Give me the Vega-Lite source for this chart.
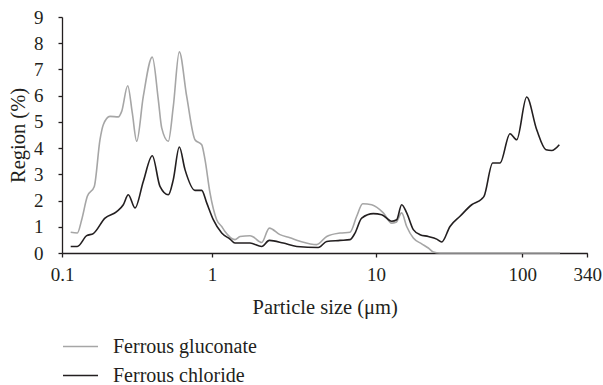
{
  "$schema": "https://vega.github.io/schema/vega-lite/v6.json",
  "autosize": "none",
  "width": 525.3,
  "height": 236,
  "padding": {"left": 62, "top": 17, "right": 15.7, "bottom": 132},
  "background": "white",
  "config": {
    "font": "Liberation Serif",
    "view": {"stroke": null},
    "axis": {"domainColor": "#231f20", "tickColor": "#231f20", "labelColor": "#231f20", "titleColor": "#231f20", "labelFont": "Liberation Serif", "titleFont": "Liberation Serif", "labelFontSize": 19, "titleFontSize": 20.5, "titleFontWeight": "normal", "grid": false, "domainWidth": 1.3, "tickWidth": 1.3, "tickSize": 4},
    "legend": {"labelFont": "Liberation Serif", "labelFontSize": 20, "labelColor": "#231f20"}
  },
  "data": {"values": [
    {"series": "Ferrous gluconate", "size": 0.1143, "region": 0.79},
    {"series": "Ferrous gluconate", "size": 0.1265, "region": 0.76},
    {"series": "Ferrous gluconate", "size": 0.1353, "region": 1.27},
    {"series": "Ferrous gluconate", "size": 0.1475, "region": 2.16},
    {"series": "Ferrous gluconate", "size": 0.1642, "region": 2.54},
    {"series": "Ferrous gluconate", "size": 0.1792, "region": 4.32},
    {"series": "Ferrous gluconate", "size": 0.1885, "region": 4.89},
    {"series": "Ferrous gluconate", "size": 0.2089, "region": 5.21},
    {"series": "Ferrous gluconate", "size": 0.2373, "region": 5.19},
    {"series": "Ferrous gluconate", "size": 0.25, "region": 5.4},
    {"series": "Ferrous gluconate", "size": 0.2742, "region": 6.38},
    {"series": "Ferrous gluconate", "size": 0.2942, "region": 5.34},
    {"series": "Ferrous gluconate", "size": 0.3148, "region": 4.26},
    {"series": "Ferrous gluconate", "size": 0.3483, "region": 5.97},
    {"series": "Ferrous gluconate", "size": 0.3999, "region": 7.47},
    {"series": "Ferrous gluconate", "size": 0.4385, "region": 5.85},
    {"series": "Ferrous gluconate", "size": 0.462, "region": 4.77},
    {"series": "Ferrous gluconate", "size": 0.5113, "region": 4.26},
    {"series": "Ferrous gluconate", "size": 0.5521, "region": 5.59},
    {"series": "Ferrous gluconate", "size": 0.6053, "region": 7.67},
    {"series": "Ferrous gluconate", "size": 0.6782, "region": 5.97},
    {"series": "Ferrous gluconate", "size": 0.7701, "region": 4.32},
    {"series": "Ferrous gluconate", "size": 0.8536, "region": 4.13},
    {"series": "Ferrous gluconate", "size": 0.8982, "region": 3.56},
    {"series": "Ferrous gluconate", "size": 0.9698, "region": 2.29},
    {"series": "Ferrous gluconate", "size": 1.068, "region": 1.27},
    {"series": "Ferrous gluconate", "size": 1.146, "region": 1.01},
    {"series": "Ferrous gluconate", "size": 1.2, "region": 0.82},
    {"series": "Ferrous gluconate", "size": 1.381, "region": 0.51},
    {"series": "Ferrous gluconate", "size": 1.482, "region": 0.63},
    {"series": "Ferrous gluconate", "size": 1.705, "region": 0.66},
    {"series": "Ferrous gluconate", "size": 1.786, "region": 0.61},
    {"series": "Ferrous gluconate", "size": 2.009, "region": 0.4},
    {"series": "Ferrous gluconate", "size": 2.236, "region": 0.95},
    {"series": "Ferrous gluconate", "size": 2.598, "region": 0.7},
    {"series": "Ferrous gluconate", "size": 2.989, "region": 0.58},
    {"series": "Ferrous gluconate", "size": 3.44, "region": 0.45},
    {"series": "Ferrous gluconate", "size": 4.348, "region": 0.32},
    {"series": "Ferrous gluconate", "size": 5.005, "region": 0.63},
    {"series": "Ferrous gluconate", "size": 6.034, "region": 0.76},
    {"series": "Ferrous gluconate", "size": 6.943, "region": 0.79},
    {"series": "Ferrous gluconate", "size": 7.626, "region": 1.4},
    {"series": "Ferrous gluconate", "size": 8.298, "region": 1.88},
    {"series": "Ferrous gluconate", "size": 9.414, "region": 1.84},
    {"series": "Ferrous gluconate", "size": 11.22, "region": 1.53},
    {"series": "Ferrous gluconate", "size": 12.8, "region": 1.14},
    {"series": "Ferrous gluconate", "size": 13.7, "region": 1.17},
    {"series": "Ferrous gluconate", "size": 14.98, "region": 1.53},
    {"series": "Ferrous gluconate", "size": 16.21, "region": 1.01},
    {"series": "Ferrous gluconate", "size": 17.99, "region": 0.57},
    {"series": "Ferrous gluconate", "size": 20.53, "region": 0.35},
    {"series": "Ferrous gluconate", "size": 22.78, "region": 0.19},
    {"series": "Ferrous gluconate", "size": 24.64, "region": 0.04},
    {"series": "Ferrous gluconate", "size": 27.38, "region": 0},
    {"series": "Ferrous gluconate", "size": 203.4, "region": 0},
    {"series": "Ferrous chloride", "size": 0.1143, "region": 0.25},
    {"series": "Ferrous chloride", "size": 0.1265, "region": 0.25},
    {"series": "Ferrous chloride", "size": 0.1461, "region": 0.66},
    {"series": "Ferrous chloride", "size": 0.1617, "region": 0.74},
    {"series": "Ferrous chloride", "size": 0.1935, "region": 1.33},
    {"series": "Ferrous chloride", "size": 0.2315, "region": 1.58},
    {"series": "Ferrous chloride", "size": 0.2563, "region": 1.84},
    {"series": "Ferrous chloride", "size": 0.2767, "region": 2.22},
    {"series": "Ferrous chloride", "size": 0.3067, "region": 1.72},
    {"series": "Ferrous chloride", "size": 0.3483, "region": 2.73},
    {"series": "Ferrous chloride", "size": 0.3999, "region": 3.71},
    {"series": "Ferrous chloride", "size": 0.45, "region": 2.54},
    {"series": "Ferrous chloride", "size": 0.5113, "region": 2.22},
    {"series": "Ferrous chloride", "size": 0.5521, "region": 2.8},
    {"series": "Ferrous chloride", "size": 0.6053, "region": 4.04},
    {"series": "Ferrous chloride", "size": 0.6607, "region": 3.18},
    {"series": "Ferrous chloride", "size": 0.7701, "region": 2.39},
    {"series": "Ferrous chloride", "size": 0.8536, "region": 2.39},
    {"series": "Ferrous chloride", "size": 0.9219, "region": 1.91},
    {"series": "Ferrous chloride", "size": 1.018, "region": 1.27},
    {"series": "Ferrous chloride", "size": 1.146, "region": 0.76},
    {"series": "Ferrous chloride", "size": 1.288, "region": 0.53},
    {"series": "Ferrous chloride", "size": 1.381, "region": 0.38},
    {"series": "Ferrous chloride", "size": 1.705, "region": 0.38},
    {"series": "Ferrous chloride", "size": 2.009, "region": 0.25},
    {"series": "Ferrous chloride", "size": 2.236, "region": 0.48},
    {"series": "Ferrous chloride", "size": 2.721, "region": 0.38},
    {"series": "Ferrous chloride", "size": 3.285, "region": 0.25},
    {"series": "Ferrous chloride", "size": 4.447, "region": 0.21},
    {"series": "Ferrous chloride", "size": 5.005, "region": 0.44},
    {"series": "Ferrous chloride", "size": 6.034, "region": 0.48},
    {"series": "Ferrous chloride", "size": 6.943, "region": 0.51},
    {"series": "Ferrous chloride", "size": 7.447, "region": 0.76},
    {"series": "Ferrous chloride", "size": 8.182, "region": 1.33},
    {"series": "Ferrous chloride", "size": 9.627, "region": 1.5},
    {"series": "Ferrous chloride", "size": 10.94, "region": 1.46},
    {"series": "Ferrous chloride", "size": 12.8, "region": 1.21},
    {"series": "Ferrous chloride", "size": 13.85, "region": 1.27},
    {"series": "Ferrous chloride", "size": 14.98, "region": 1.84},
    {"series": "Ferrous chloride", "size": 16.21, "region": 1.53},
    {"series": "Ferrous chloride", "size": 17.99, "region": 0.89},
    {"series": "Ferrous chloride", "size": 20.0, "region": 0.7},
    {"series": "Ferrous chloride", "size": 22.78, "region": 0.63},
    {"series": "Ferrous chloride", "size": 26.0, "region": 0.53},
    {"series": "Ferrous chloride", "size": 28.12, "region": 0.42},
    {"series": "Ferrous chloride", "size": 32.05, "region": 1.01},
    {"series": "Ferrous chloride", "size": 37.52, "region": 1.4},
    {"series": "Ferrous chloride", "size": 45.1, "region": 1.84},
    {"series": "Ferrous chloride", "size": 52.78, "region": 2.06},
    {"series": "Ferrous chloride", "size": 54.72, "region": 2.16},
    {"series": "Ferrous chloride", "size": 62.77, "region": 3.43},
    {"series": "Ferrous chloride", "size": 70.41, "region": 3.43},
    {"series": "Ferrous chloride", "size": 82.4, "region": 4.55},
    {"series": "Ferrous chloride", "size": 91.57, "region": 4.32},
    {"series": "Ferrous chloride", "size": 108.6, "region": 5.95},
    {"series": "Ferrous chloride", "size": 131.2, "region": 4.7},
    {"series": "Ferrous chloride", "size": 156.2, "region": 3.94},
    {"series": "Ferrous chloride", "size": 174.0, "region": 3.91},
    {"series": "Ferrous chloride", "size": 200.7, "region": 4.13}
  ]},
  "mark": {"type": "line", "interpolate": "monotone", "strokeWidth": 1.6},
  "encoding": {
    "x": {
      "field": "size", "type": "quantitative",
      "scale": {"type": "log", "domain": [0.1, 1, 10, 100, 340], "range": [0, 150, 314, 460.3, 525.3]},
      "axis": {"values": [0.1, 1, 10, 100, 340], "labelExpr": "format(datum.value, '~g')", "title": "Particle size (μm)", "labelPadding": 8, "titlePadding": 13, "labelFlush": false}
    },
    "y": {
      "field": "region", "type": "quantitative",
      "scale": {"domain": [0, 9], "nice": false},
      "axis": {"values": [0, 1, 2, 3, 4, 5, 6, 7, 8, 9], "title": "Region (%)", "labelPadding": 15, "titlePadding": 5}
    },
    "color": {
      "field": "series", "type": "nominal",
      "scale": {"domain": ["Ferrous gluconate", "Ferrous chloride"], "range": ["#a6a6a6", "#231f20"]},
      "legend": {"title": null, "orient": "none", "legendX": 0, "legendY": 311, "symbolType": "stroke", "symbolSize": 1225, "symbolStrokeWidth": 1.5, "labelOffset": 14, "rowPadding": -12.5, "padding": 0}
    }
  }
}
